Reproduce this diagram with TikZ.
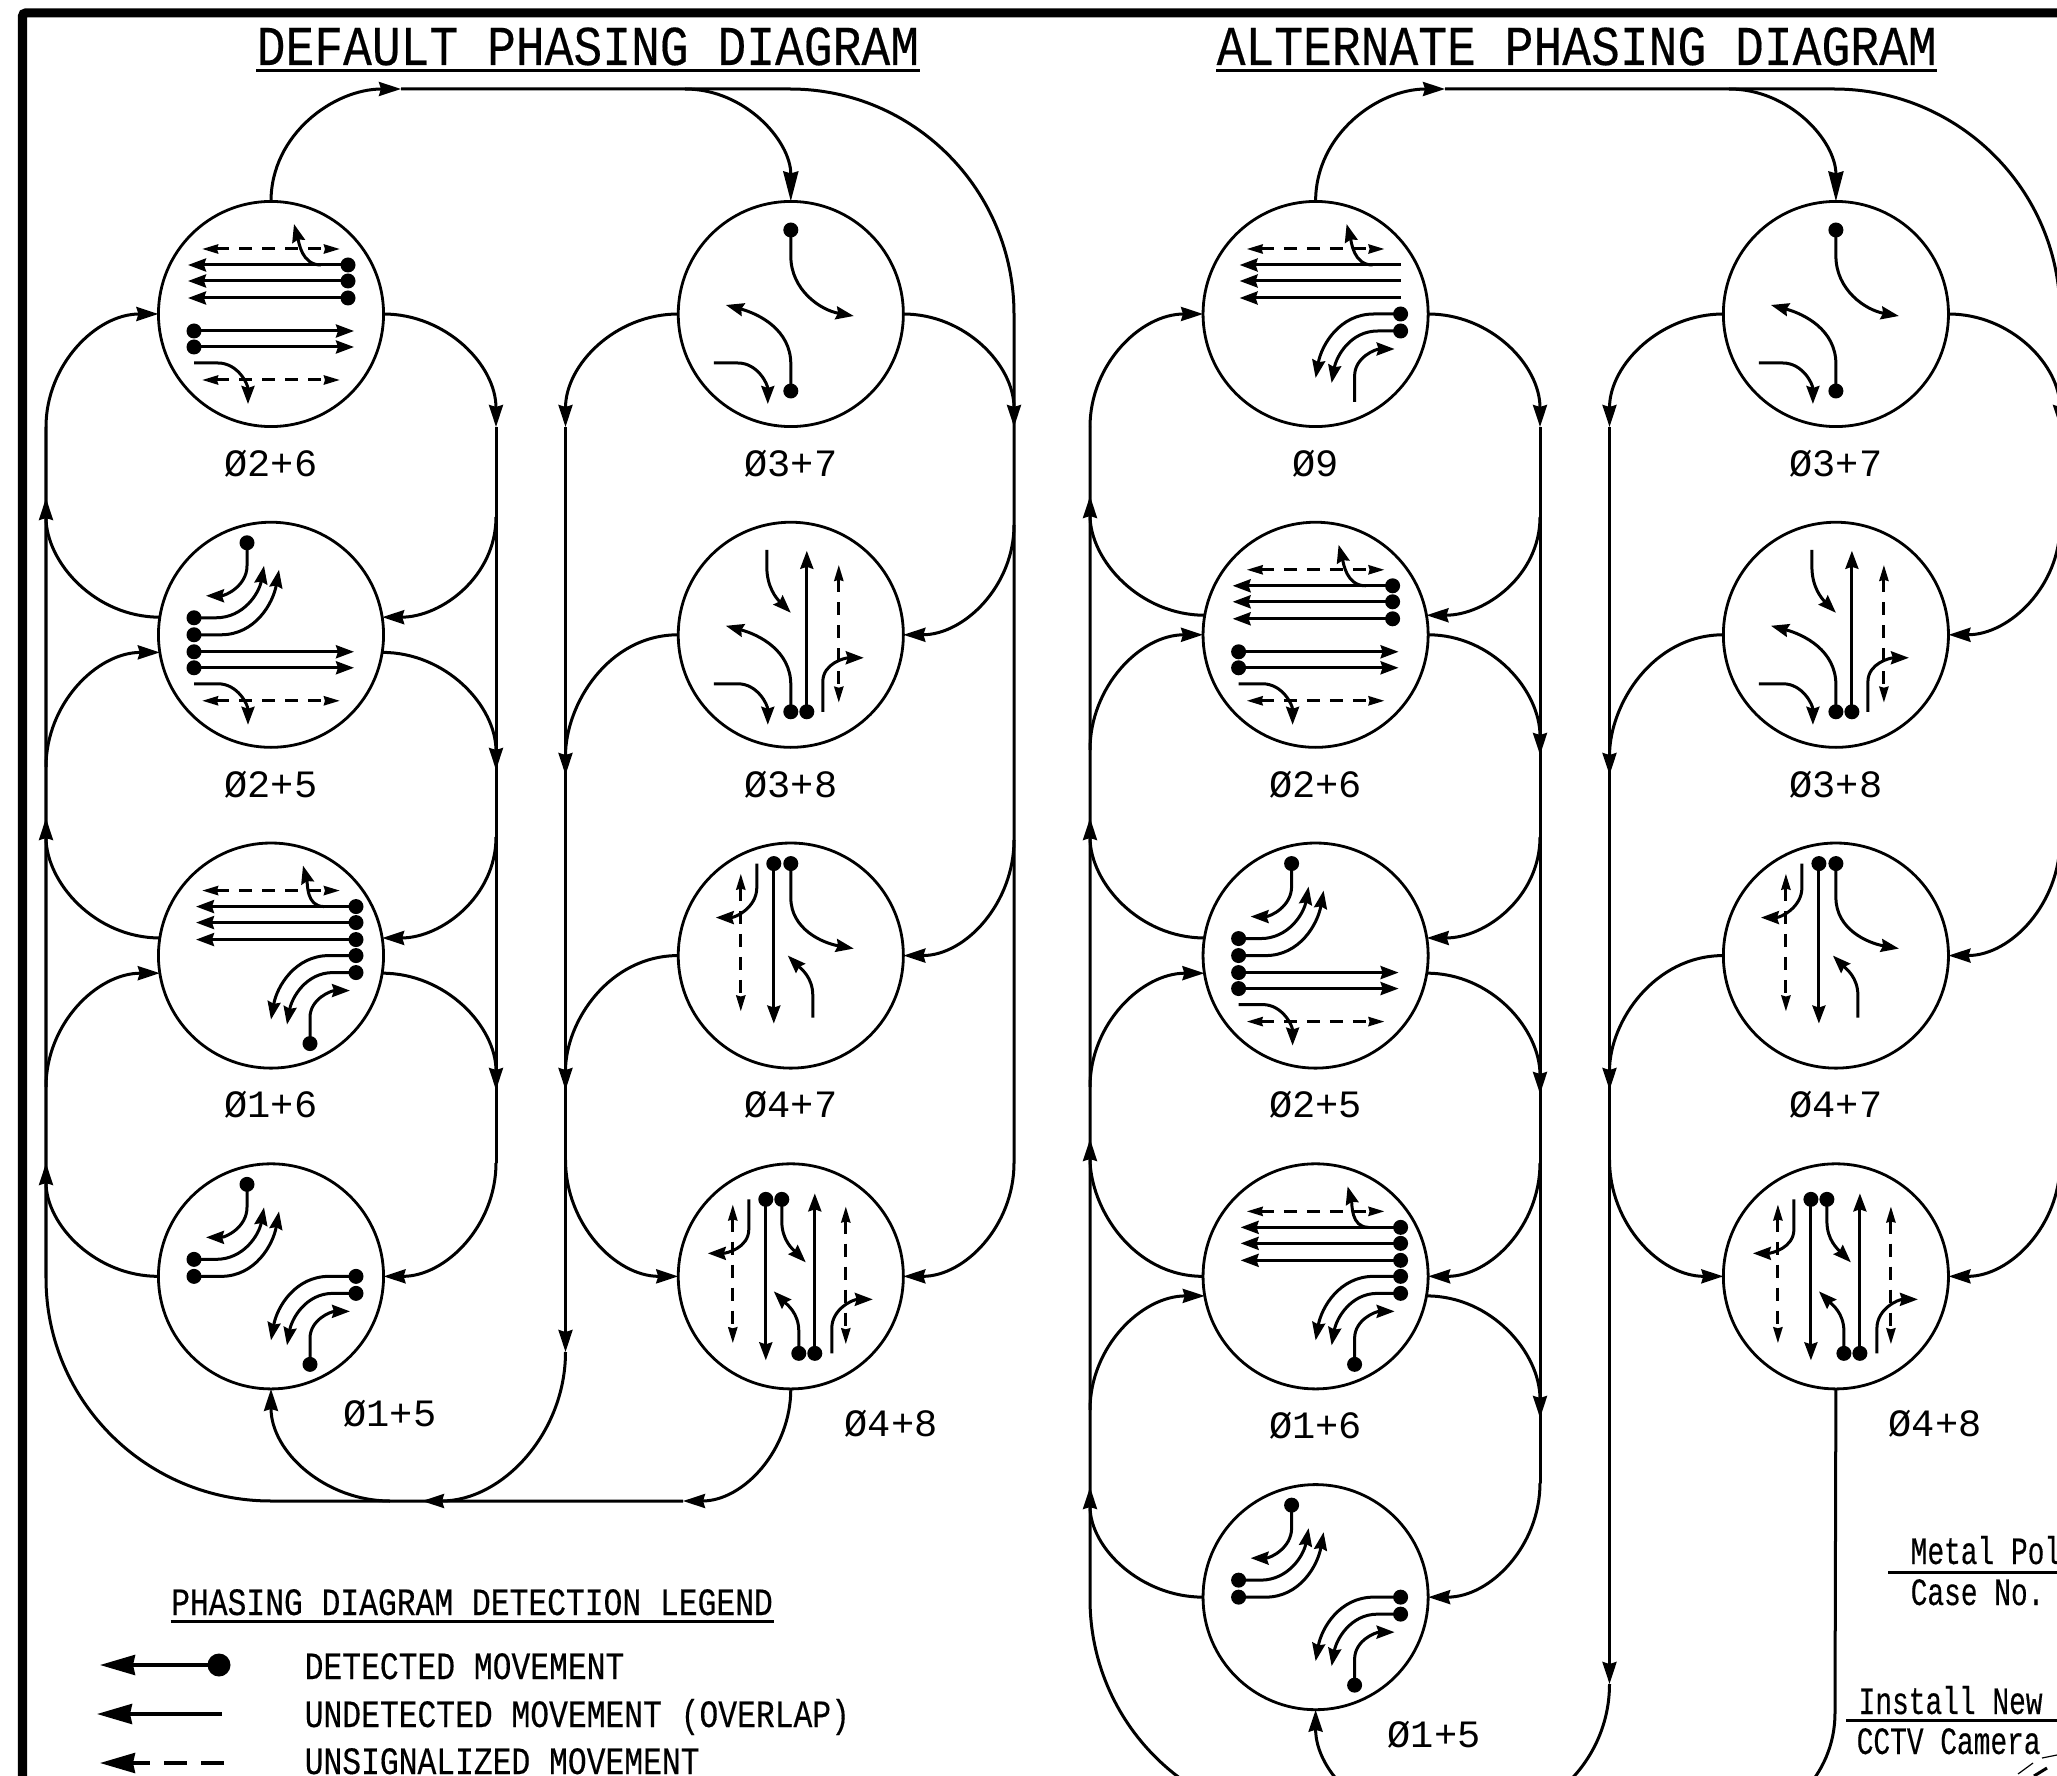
\documentclass[tikz,border=0pt]{standalone}
\usepackage{fontspec}
\usepackage{tikz}
\usetikzlibrary{arrows.meta, positioning}
\newfontfamily\titlefont[FakeStretch=0.853, FakeBold=0.3]{Liberation Mono}
\newfontfamily\legendfont[FakeStretch=0.81, FakeBold=0.3]{Liberation Mono}
\newfontfamily\notefont[FakeStretch=0.72, FakeBold=0.3]{Liberation Mono}
\newfontfamily\phasefont{Liberation Mono}

\newcommand{\turnS}{\draw[mv] (-77,49) -- (-53,49) to[out=0,in=90] (-23,90);}
\newcommand{\pedN}{\draw[ped] (-69,-65) -- (69,-65);}
\newcommand{\pedS}{\draw[ped] (-69,66) -- (69,66);}
\newcommand{\leftSE}{%
    \draw[mv] (85,0) -- (58,0) to[out=180,in=80] (0,64);
    \draw[mv] (85,17) -- (62,17) to[out=180,in=80] (16,69);
    \draw[mv] (39,88) -- (39,62) to[out=90,in=180] (79,35);
    \fill (85,0) circle[radius=7.5];
    \fill (85,17) circle[radius=7.5];}
\newcommand{\leftNW}{%
    \draw[mv] (-77,-17) -- (-55,-17) to[out=0,in=-100] (-7,-69);
    \draw[mv] (-77,0) -- (-50,0) to[out=0,in=-100] (8,-65);
    \draw[mv] (-24,-92) -- (-24,-69) to[out=-90,in=0] (-65,-39);
    \fill (-77,-17) circle[radius=7.5];
    \fill (-77,0) circle[radius=7.5];
    \fill (-24,-92) circle[radius=7.5];}
\newcommand{\portout}[5]{\coordinate (jn) at (#4,#5); \draw[link] (#1) to[out=#2,in=#3] (jn);}
\newcommand{\portin}[5]{\coordinate (jn) at (#4,#5); \draw[link] (jn) to[out=#2,in=#3] (#1);}

\tikzset{
    glyphTwoSix/.pic={
        \pedN \pedS \turnS
        \foreach \y in {-49,-33,-16} {\draw[mv] (77,\y) -- (-83,\y); \fill (77,\y) circle[radius=7.5];}
        \foreach \y in {17,33} {\draw[mv] (-77,\y) -- (83,\y); \fill (-77,\y) circle[radius=7.5];}
        \draw[mv] (50,-49) to[out=180,in=-75] (23,-90);
    },
    glyphTwoFive/.pic={
        \pedS \turnS \leftNW
        \foreach \y in {17,33} {\draw[mv] (-77,\y) -- (83,\y); \fill (-77,\y) circle[radius=7.5];}
    },
    glyphOneSix/.pic={
        \pedN \leftSE
        \foreach \y in {-49,-33,-16} {\draw[mv] (85,\y) -- (-75,\y); \fill (85,\y) circle[radius=7.5];}
        \draw[mv] (53,-49) to[out=180,in=-75] (32,-90);
        \fill (39,88) circle[radius=7.5];
    },
    glyphOneFive/.pic={
        \leftNW \leftSE
        \fill (39,88) circle[radius=7.5];
    },
    glyphNine/.pic={
        \pedN \leftSE
        \foreach \y in {-49,-33,-16} {\draw[mv] (85,\y) -- (-76,\y);}
        \draw[mv] (57,-49) to[out=180,in=-75] (31,-90);
    },
    glyphThreeSeven/.pic={
        \turnS
        \draw[mv] (0,-84) -- (0,-58) to[out=-90,in=170] (63,2);
        \draw[mv] (0,77) -- (0,50) to[out=90,in=-15] (-65,-9);
        \fill (0,-84) circle[radius=7.5];
        \fill (0,77) circle[radius=7.5];
    },
    glyphThreeEight/.pic={
        \turnS
        \draw[mv] (0,77) -- (0,50) to[out=90,in=-15] (-65,-9);
        \draw[mv] (16,77) -- (16,-84);
        \draw[mv] (-24,-85) -- (-24,-68) to[out=-90,in=135] (0,-22);
        \draw[ped] (48,-70) -- (48,68);
        \draw[mv] (32,77) -- (32,47) to[out=90,in=180] (73,23);
        \fill (0,77) circle[radius=7.5];
        \fill (16,77) circle[radius=7.5];
    },
    glyphFourSeven/.pic={
        \draw[mv] (-17,-92) -- (-17,68);
        \draw[mv] (0,-92) -- (0,-58) to[out=-90,in=170] (63,-7);
        \draw[mv] (-34,-92) -- (-34,-68) to[out=-90,in=0] (-75,-38);
        \draw[ped] (-50,-82) -- (-50,56);
        \draw[mv] (22,62) -- (22,40) to[out=90,in=-45] (-3,0);
        \fill (-17,-92) circle[radius=7.5];
        \fill (0,-92) circle[radius=7.5];
    },
    glyphFourEight/.pic={
        \draw[mv] (-25,-77) -- (-25,84);
        \draw[mv] (-42,-77) -- (-42,-47) to[out=-90,in=0] (-83,-23);
        \draw[mv] (-9,-77) -- (-9,-55) to[out=-90,in=135] (15,-14);
        \draw[ped] (-58,-72) -- (-58,67);
        \draw[mv] (24,77) -- (24,-83);
        \draw[mv] (8,77) -- (8,55) to[out=90,in=-45] (-17,15);
        \draw[mv] (41,77) -- (41,52) to[out=90,in=180] (82,23);
        \draw[ped] (55,-70) -- (55,68);
        \fill (-25,-77) circle[radius=7.5];
        \fill (-9,-77) circle[radius=7.5];
        \fill (8,77) circle[radius=7.5];
        \fill (24,77) circle[radius=7.5];
    }
}

\begin{document}
\begin{tikzpicture}[x=0.01cm, y=-0.01cm, node distance=0.956cm,
    phase/.style={circle, draw, minimum size=2.25cm, inner sep=0pt, outer sep=0pt, line width=0.028cm},
    mv/.style={line width=0.03cm, -{Stealth[length=0.18cm, width=0.13cm, inset=0.02cm]}},
    ped/.style={line width=0.03cm, dash pattern=on 0.13cm off 0.1cm, {Stealth[length=0.16cm, width=0.09cm, inset=0.01cm]}-{Stealth[length=0.16cm, width=0.09cm, inset=0.01cm]}},
    link/.style={line width=0.03cm, -{Stealth[length=0.22cm, width=0.14cm, inset=0.02cm]}},
    feed/.style={line width=0.03cm, -{Stealth[length=0.3cm, width=0.15cm, inset=0.02cm]}},
    wire/.style={line width=0.03cm},
    phlabel/.style={font=\phasefont\fontsize{11}{11}\selectfont, inner sep=0pt, text height=0.26cm, text depth=0pt},
    titletext/.style={font=\titlefont\fontsize{16}{16}\selectfont, inner sep=0pt, anchor=base west},
    legendtext/.style={font=\legendfont\fontsize{11}{11}\selectfont, inner sep=0pt, anchor=base west},
    notetext/.style={font=\notefont\fontsize{11}{11}\selectfont, inner sep=0pt, anchor=base west}]

    \path[use as bounding box, clip] (0,0) rectangle (2057,1776);
    \draw[line width=0.09cm, rounded corners=0.03cm] (22.5,1800) -- (22.5,13) -- (2080,13);

    % titles
    \node (titleA) [titletext] at (256,65) {DEFAULT PHASING DIAGRAM};
    \node (titleB) [titletext] at (1216,65) {ALTERNATE PHASING DIAGRAM};
    \draw[wire] (titleA.base west |- 0,71) -- (titleA.base east |- 0,71);
    \draw[wire] (titleB.base west |- 0,71) -- (titleB.base east |- 0,71);

    % phase circles
    \node (p26a) [phase] at (271,314) {};
    \node (p25a) [phase, below=of p26a] {};
    \node (p16a) [phase, below=of p25a] {};
    \node (p15a) [phase, below=of p16a] {};
    \node (p37a) [phase, right=2.945cm of p26a] {};
    \node (p38a) [phase, below=of p37a] {};
    \node (p47a) [phase, below=of p38a] {};
    \node (p48a) [phase, below=of p47a] {};
    \node (p9b) [phase, right=2.995cm of p37a] {};
    \node (p26b) [phase, below=of p9b] {};
    \node (p25b) [phase, below=of p26b] {};
    \node (p16b) [phase, below=of p25b] {};
    \node (p15b) [phase, below=of p16b] {};
    \node (p37b) [phase, right=2.95cm of p9b] {};
    \node (p38b) [phase, below=of p37b] {};
    \node (p47b) [phase, below=of p38b] {};
    \node (p48b) [phase, below=of p47b] {};

    \pic at (p26a) {glyphTwoSix};
    \pic at (p25a) {glyphTwoFive};
    \pic at (p16a) {glyphOneSix};
    \pic at (p15a) {glyphOneFive};
    \pic at (p37a) {glyphThreeSeven};
    \pic at (p38a) {glyphThreeEight};
    \pic at (p47a) {glyphFourSeven};
    \pic at (p48a) {glyphFourEight};
    \pic at (p9b) {glyphNine};
    \pic at (p26b) {glyphTwoSix};
    \pic at (p25b) {glyphTwoFive};
    \pic at (p16b) {glyphOneSix};
    \pic at (p15b) {glyphOneFive};
    \pic at (p37b) {glyphThreeSeven};
    \pic at (p38b) {glyphThreeEight};
    \pic at (p47b) {glyphFourSeven};
    \pic at (p48b) {glyphFourEight};

    % phase labels
    \node (l26a) [phlabel, below=0.23cm of p26a] {Ø2+6};
    \node (l25a) [phlabel, below=0.23cm of p25a] {Ø2+5};
    \node (l16a) [phlabel, below=0.23cm of p16a] {Ø1+6};
    \node (l15a) [phlabel] at (390,1413) {Ø1+5};
    \node (l37a) [phlabel, below=0.23cm of p37a] {Ø3+7};
    \node (l38a) [phlabel, below=0.23cm of p38a] {Ø3+8};
    \node (l47a) [phlabel, below=0.23cm of p47a] {Ø4+7};
    \node (l48a) [phlabel] at (891,1423) {Ø4+8};
    \node (l9b) [phlabel, below=0.23cm of p9b] {Ø9};
    \node (l26b) [phlabel, below=0.23cm of p26b] {Ø2+6};
    \node (l25b) [phlabel, below=0.23cm of p25b] {Ø2+5};
    \node (l16b) [phlabel, below=0.23cm of p16b] {Ø1+6};
    \node (l15b) [phlabel] at (1434,1734) {Ø1+5};
    \node (l37b) [phlabel, below=0.23cm of p37b] {Ø3+7};
    \node (l38b) [phlabel, below=0.23cm of p38b] {Ø3+8};
    \node (l47b) [phlabel, below=0.23cm of p47b] {Ø4+7};
    \node (l48b) [phlabel] at (1935,1423) {Ø4+8};

    % default diagram, left pair of buses
    \foreach \n/\y in {p26a.east/427, p25a.-9/770, p16a.-9/1090} {\portout{\n}{0}{90}{496}{\y}}
    \foreach \n/\y in {p25a.9/517, p16a.9/837, p15a.east/1163} {\portin{\n}{-90}{0}{496}{\y}}
    \foreach \n/\y in {p25a.171/498, p16a.171/818, p15a.west/1163} {\portout{\n}{180}{-90}{46}{\y}}
    \foreach \n/\y in {p26a.west/427, p25a.189/767, p16a.189/1087} {\portin{\n}{90}{180}{46}{\y}}
    \coordinate (busAr) at (496,427);
    \coordinate (busAq) at (496,1163);
    \draw[wire] (busAr) -- (busAq);

    % default diagram, right pair of buses
    \foreach \n/\y in {p37a.west/427, p38a.west/775, p47a.west/1090} {\portout{\n}{180}{90}{565.5}{\y}}
    \portin{p48a.west}{-90}{180}{565.5}{1160}
    \portout{p37a.east}{0}{90}{1014}{427}
    \foreach \n/\y in {p38a.east/525, p47a.east/840, p48a.east/1163} {\portin{\n}{-90}{0}{1014}{\y}}
    \coordinate (busBt) at (565.5,427);
    \coordinate (busBe) at (565.5,1352);
    \draw[link] (busBt) -- (busBe);

    % default diagram, top and bottom runs
    \coordinate (topAa) at (401,89);
    \coordinate (topAb) at (685,89);
    \coordinate (topAc) at (790,89);
    \coordinate (busCm) at (1014,314);
    \coordinate (busCe) at (1014,1163);
    \draw[link] (p26a.north) to[out=90,in=180] (topAa);
    \draw[wire] (topAa) -- (topAc) to[out=0,in=90] (busCm) -- (busCe);
    \draw[feed] (topAb) to[out=0,in=90] (p37a.north);
    \coordinate (busDt) at (46,427);
    \coordinate (busDb) at (46,1278);
    \coordinate (botAa) at (271,1501);
    \coordinate (botAb) at (422,1501);
    \coordinate (botAc) at (390,1501);
    \coordinate (botAd) at (683,1501);
    \draw[wire] (busDt) -- (busDb) to[out=-90,in=180] (botAa) -- (botAd);
    \draw[link] (p48a.south) to[out=-90,in=0] (botAd);
    \draw[link] (busBe) to[out=-90,in=0] (botAb);
    \draw[link] (botAc) to[out=180,in=-90] (p15a.south);

    % alternate diagram, left pair of buses
    \foreach \n/\y in {p9b.east/427, p26b.east/755, p25b.-9/1094, p16b.-10/1418} {\portout{\n}{0}{90}{1540}{\y}}
    \foreach \n/\y in {p26b.10/517, p25b.9/837, p16b.east/1163, p15b.east/1483} {\portin{\n}{-90}{0}{1540}{\y}}
    \foreach \n/\y in {p26b.170/496, p25b.171/818, p16b.west/1139, p15b.west/1487} {\portout{\n}{180}{-90}{1090}{\y}}
    \foreach \n/\y in {p9b.west/427, p26b.west/750, p25b.189/1087, p16b.190/1410} {\portin{\n}{90}{180}{1090}{\y}}
    \coordinate (busEt) at (1540,427);
    \coordinate (busEb) at (1540,1483);
    \draw[wire] (busEt) -- (busEb);

    % alternate diagram, right pair of buses
    \foreach \n/\y in {p37b.west/427, p38b.west/775, p47b.west/1090} {\portout{\n}{180}{90}{1609.5}{\y}}
    \portin{p48b.west}{-90}{180}{1609.5}{1160}
    \portout{p37b.east}{0}{90}{2060}{427}
    \foreach \n/\y in {p38b.east/525, p47b.east/840, p48b.east/1163} {\portin{\n}{-90}{0}{2060}{\y}}
    \coordinate (busFt) at (1609.5,427);
    \coordinate (busFe) at (1609.5,1684);
    \draw[link] (busFt) -- (busFe);

    % alternate diagram, top and bottom runs
    \coordinate (topBa) at (1445,89);
    \coordinate (topBb) at (1729,89);
    \coordinate (topBc) at (1834,89);
    \coordinate (busGm) at (2060,314);
    \coordinate (busGe) at (2060,1163);
    \draw[link] (p9b.north) to[out=90,in=180] (topBa);
    \draw[wire] (topBa) -- (topBc) to[out=0,in=90] (busGm) -- (busGe);
    \draw[feed] (topBb) to[out=0,in=90] (p37b.north);
    \coordinate (busHt) at (1090,427);
    \coordinate (busHb) at (1090,1599);
    \coordinate (botBa) at (1313,1822);
    \coordinate (botBb) at (1471,1822);
    \coordinate (botBc) at (1429,1822);
    \coordinate (botBd) at (1722,1826);
    \coordinate (busJb) at (1835,1713);
    \draw[wire] (busHt) -- (busHb) to[out=-90,in=180] (botBa);
    \draw[wire] (busFe) to[out=-90,in=0] (botBb);
    \draw[link] (botBc) to[out=180,in=-90] (p15b.south);
    \draw[wire] (p48b.south) -- (busJb) to[out=-90,in=0] (botBd);

    % legend
    \node (legendhead) [legendtext] at (170.5,1615) {PHASING DIAGRAM DETECTION LEGEND};
    \draw[wire] (legendhead.base west |- 0,1621) -- (legendhead.base east |- 0,1621);
    \node (legendA) [legendtext] at (304,1679) {DETECTED MOVEMENT};
    \node (legendB) [legendtext] at (304,1727) {UNDETECTED MOVEMENT (OVERLAP)};
    \node (legendC) [legendtext] at (304,1774) {UNSIGNALIZED MOVEMENT};
    \coordinate (keyAa) at (219,1665);
    \coordinate (keyAb) at (100,1665);
    \coordinate (keyBa) at (222,1714);
    \coordinate (keyBb) at (97,1714);
    \coordinate (keyCa) at (224,1763);
    \coordinate (keyCb) at (100,1763);
    \tikzset{keyarrow/.style={line width=0.035cm, -{Stealth[length=0.35cm, width=0.2cm, inset=0.02cm]}}}
    \draw[keyarrow] (keyAa) -- (keyAb);
    \fill (keyAa) circle[radius=11.5];
    \draw[keyarrow] (keyBa) -- (keyBb);
    \draw[keyarrow, dash pattern=on 0.23cm off 0.14cm] (keyCa) -- (keyCb);

    % notes at lower right
    \node (noteA) [notetext] at (1910,1564) {Metal Pol};
    \node (noteB) [notetext] at (1910,1605) {Case No.};
    \node (noteC) [notetext] at (1858,1714) {Install New};
    \node (noteD) [notetext] at (1856,1754) {CCTV Camera};
    \coordinate (ruleAa) at (1888,1572);
    \coordinate (ruleAb) at (2057,1572);
    \coordinate (ruleBa) at (1846,1720);
    \coordinate (ruleBb) at (2057,1720);
    \draw[wire] (ruleAa) -- (ruleAb);
    \draw[wire] (ruleBa) -- (ruleBb);
    \draw[line width=0.012cm] (2018,1774) -- (2033,1763);
    \draw[line width=0.012cm] (2042,1758) -- (2057,1755);
    \draw[wire] (2034,1776) -- (2047,1768);

\end{tikzpicture}
\end{document}
